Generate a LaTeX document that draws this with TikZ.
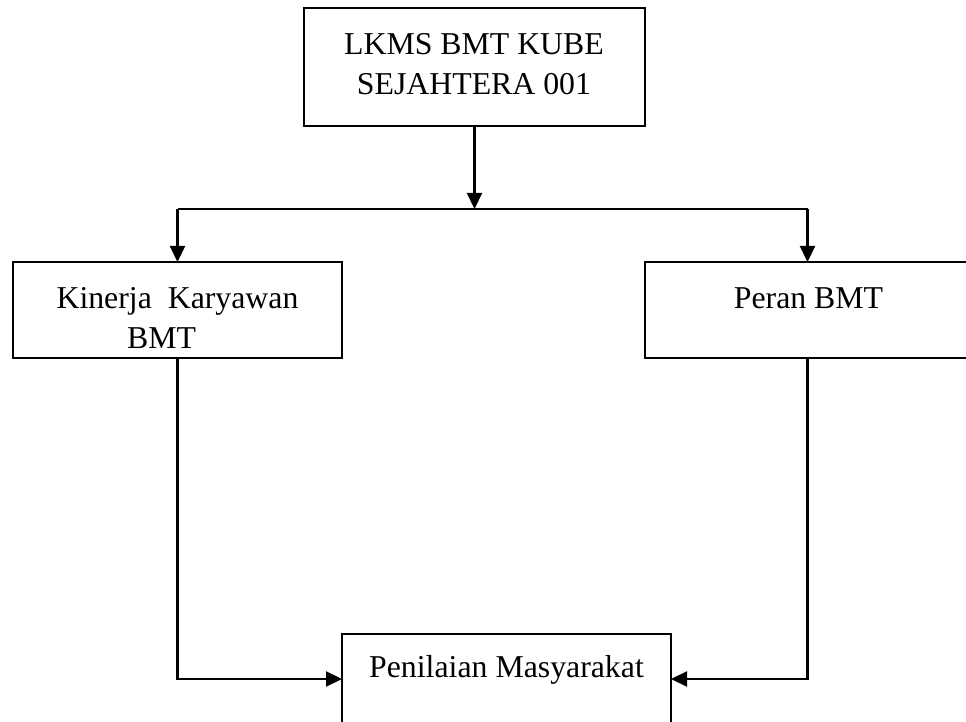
\documentclass[tikz,border=0pt]{standalone}
\usepackage{fontspec}
\setmainfont{Liberation Serif}
\usetikzlibrary{arrows.meta}
\tikzset{
  kotak/.style={draw, rectangle, line width=0.8pt, outer sep=0pt, inner sep=0pt},
  teks/.style={font=\fontsize{15.9pt}{20pt}\selectfont, align=center, inner sep=0pt},
  panah/.style={-{Triangle[length=8pt,width=7.5pt]}, line width=1.1pt},
  garis/.style={line width=1.1pt},
}
\begin{document}
\begin{tikzpicture}[x=0.5pt, y=-0.5pt]
 \useasboundingbox (0,0) rectangle (966,722);
 \node[kotak, minimum width=170.5pt, minimum height=59pt] (lkms) at (474.5,67) {};
 \node[teks] (lkmsT) at (474,64.5) {LKMS BMT KUBE\\SEJAHTERA 001};
 \node[kotak, minimum width=164.5pt, minimum height=48pt] (kinerja) at (177.5,310) {};
 \node[teks] (kinerjaT) at (177.5,318.5) {Kinerja\ \ Karyawan\\BMT\hspace*{1em}};
 \node[kotak, minimum width=162.5pt, minimum height=48pt] (peran) at (807.5,310) {};
 \node[teks, anchor=base] (peranT) at (808.5,309) {Peran BMT};
 \node[kotak, minimum width=164.5pt, minimum height=45pt] (nilai) at (506.5,679) {};
 \node[teks, anchor=base] (nilaiT) at (506.5,677) {Penilaian Masyarakat};
 \coordinate (mid) at (474.5,209);
 \draw[panah] (lkms.south) -- (mid);
 \draw[garis] (kinerja.north |- mid) -- (peran.north |- mid);
 \draw[panah] (kinerja.north |- mid) -- (kinerja.north);
 \draw[panah] (peran.north |- mid) -- (peran.north);
 \draw[panah] (kinerja.south) |- (nilai.west);
 \draw[panah] (peran.south) |- (nilai.east);
\end{tikzpicture}
\end{document}
